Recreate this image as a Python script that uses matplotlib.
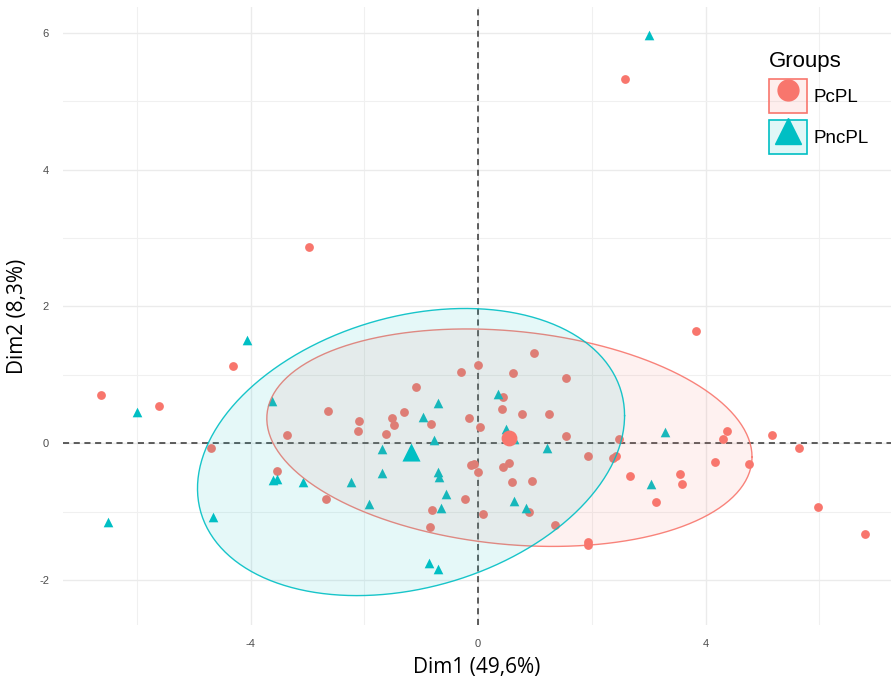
import numpy as np
import matplotlib
matplotlib.use("Agg")
import matplotlib.pyplot as plt
from matplotlib.patches import Rectangle
from matplotlib.lines import Line2D
from matplotlib.legend_handler import HandlerTuple

# individuals, group PcPL (red circles)
pcpl_x = [-6.63, -5.62, -4.31, -2.97, 2.58, 3.83, -4.69, -3.53, -3.36, -2.64,
          -2.67, -2.09, -2.11, -1.51, -1.48, -1.30, -1.62, -1.09, -0.83, -0.81,
          -0.84, -0.30, 0.00, -0.16, 0.04, -0.12, -0.07, 0.00, -0.23, 0.09,
          0.44, 0.42, 0.62, 0.98, 0.77, 1.25, 1.55, 1.55, 0.44, 0.54,
          0.60, 0.95, 0.90, 1.35, 1.93, 1.93, 1.93, 2.37, 2.43, 2.48,
          2.67, 3.13, 3.55, 3.59, 4.17, 4.31, 4.38, 4.76, 5.17, 5.64,
          5.98, 6.80]
pcpl_y = [0.70, 0.54, 1.13, 2.87, 5.33, 1.64, -0.07, -0.41, 0.12, 0.47,
          -0.81, 0.32, 0.18, 0.37, 0.26, 0.45, 0.13, 0.82, 0.28, -0.98,
          -1.22, 1.04, 1.14, 0.37, 0.23, -0.32, -0.31, -0.42, -0.81, -1.04,
          0.67, 0.50, 1.02, 1.32, 0.42, 0.42, 0.95, 0.10, -0.35, -0.29,
          -0.57, -0.56, -1.00, -1.20, -1.45, -1.49, -0.19, -0.22, -0.19, 0.06,
          -0.48, -0.86, -0.45, -0.60, -0.28, 0.06, 0.18, -0.31, 0.12, -0.07,
          -0.94, -1.33]

# individuals, group PncPL (cyan triangles)
pncpl_x = [3.01, -4.06, -5.99, -6.50, -4.67, -3.62, -3.60, -3.53, -3.08, -2.23,
           -1.92, -1.69, -1.69, -0.97, -0.77, -0.70, -0.70, -0.69, -0.56, -0.65,
           -0.86, -0.70, 0.35, 0.49, 0.63, 0.63, 0.84, 1.21, 3.04, 3.29]
pncpl_y = [5.97, 1.51, 0.45, -1.16, -1.08, 0.61, -0.54, -0.53, -0.57, -0.57,
           -0.89, -0.09, -0.44, 0.38, 0.04, 0.59, -0.42, -0.50, -0.75, -0.95,
           -1.76, -1.84, 0.72, 0.20, 0.06, -0.85, -0.95, -0.07, -0.60, 0.16]

groups = ["PcPL", "PncPL"]
colors = ["#F8766D", "#00BFC4"]
markers = ["o", "^"]

# group centres and ellipse shape matrices
group_mean_x = [0.55, -1.18]
group_mean_y = [0.08, -0.13]
ellipse_shape = [[[18.2, -1.2], [-1.2, 2.53]],
                 [[14.1, 2.0], [2.0, 4.41]]]

plt.rcParams['font.family'] = ['Liberation Sans', 'DejaVu Sans']
plt.rcParams['axes.unicode_minus'] = False

fig = plt.figure(figsize=(8.91, 6.84), dpi=100)
ax = fig.add_axes([63 / 891, 1 - 625 / 684, 1 - 63 / 891, (625 - 7) / 684])

ax.set_xlim(-7.30, 7.26)
ax.set_ylim(-2.66, 6.38)

for s in ax.spines.values():
    s.set_visible(False)

ax.set_xticks([-4, 0, 4])
ax.set_yticks([-2, 0, 2, 4, 6])
ax.set_xticks([-6, -2, 2, 6], minor=True)
ax.set_yticks([-1, 1, 3, 5], minor=True)
ax.tick_params(which="both", length=0, labelsize=8, labelcolor="#4D4D4D")
ax.tick_params(axis="x", pad=10)
ax.tick_params(axis="y", pad=10)
ax.grid(which="major", color="#EBEBEB", lw=1.0)
ax.grid(which="minor", color="#F0F0F0", lw=0.8)
ax.set_axisbelow(True)

ax.axhline(0, color="#333333", ls=(0, (4, 3)), lw=1.1, zorder=2)
ax.axvline(0, color="#333333", ls=(0, (4, 3)), lw=1.1, zorder=2)

ax.scatter(pcpl_x, pcpl_y, s=40, marker="o", color=colors[0], lw=0, zorder=3)
ax.scatter(pncpl_x, pncpl_y, s=48, marker="^", color=colors[1], lw=0, zorder=3)

t = np.linspace(0, 2 * np.pi, 300)
for i in range(2):
    L = np.linalg.cholesky(np.array(ellipse_shape[i]))
    pts = (L @ np.vstack([np.cos(t), np.sin(t)])).T
    ex = pts[:, 0] + group_mean_x[i]
    ey = pts[:, 1] + group_mean_y[i]
    ax.fill(ex, ey, color=colors[i], alpha=0.1, lw=0, zorder=4)
    ax.plot(ex, ey, color=colors[i], lw=1.0, alpha=0.9, zorder=4)

ax.scatter(group_mean_x[:1], group_mean_y[:1], s=130, marker="o", color=colors[0], lw=0, zorder=5)
ax.scatter(group_mean_x[1:], group_mean_y[1:], s=170, marker="^", color=colors[1], lw=0, zorder=5)

ax.set_xlabel("Dim1 (49,6%)", fontsize=15, family=["Open Sans", "DejaVu Sans"], labelpad=6)
ax.set_ylabel("Dim2 (8,3%)", fontsize=15, family=["Open Sans", "DejaVu Sans"], labelpad=8)

handles = []
for i in range(2):
    box = Rectangle((0, 0), 1, 1, facecolor=colors[i], alpha=0.12, edgecolor="none")
    edge = Rectangle((0, 0), 1, 1, facecolor="none", edgecolor=colors[i], lw=1.2)
    mk = Line2D([], [], marker=markers[i], color=colors[i], ls="none",
                markersize=15 if i == 0 else 19)
    handles.append((box, edge, mk))

leg = fig.legend(handles, groups, title="Groups", loc="upper left",
                 bbox_to_anchor=(769 / 891, 1 - 51 / 684),
                 handler_map={tuple: HandlerTuple(ndivide=1, pad=0)},
                 frameon=False, fontsize=13.5, title_fontsize=16,
                 handlelength=2.0, handleheight=2.45, handletextpad=0.35,
                 labelspacing=0.35, alignment="left", borderaxespad=0,
                 borderpad=0)

fig.savefig("out.png", dpi=100)
